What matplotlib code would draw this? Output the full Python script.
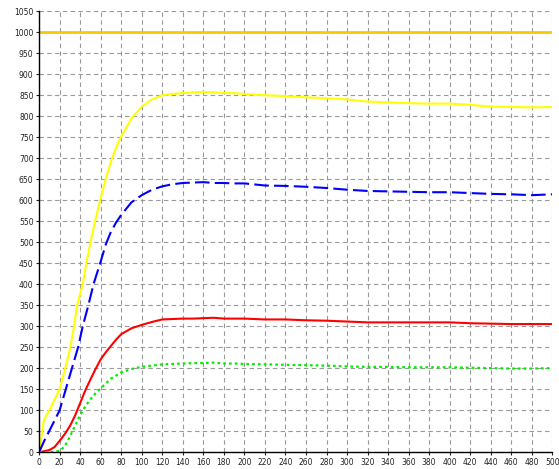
import numpy as np
import matplotlib.pyplot as plt

# tail of every series shares the same x positions
TAIL_X = [110, 120, 130, 140, 150, 160, 170, 180, 190, 200, 220, 240, 260, 280,
          300, 320, 340, 360, 380, 400, 420, 440, 460, 480, 500]

yellow_x = [0, 4.5, 10, 20, 25.5, 30.5, 34, 37, 42.5, 46, 50, 55, 60, 65, 70, 75,
            80, 90, 100] + TAIL_X
yellow = [0, 75, 100, 150, 200, 250, 300, 350, 400, 450, 500, 555, 605, 652, 692,
          725, 752, 795, 823,
          840, 850, 853, 855, 857, 858, 857, 855, 855, 853, 850, 848, 845, 843,
          840, 835, 833, 831, 830, 830, 827, 823, 822, 821, 822]

blue_x = [0, 5, 10, 15, 20, 26, 32, 38, 42.5, 48, 53, 59.5, 65, 70, 75, 80, 90,
          100] + TAIL_X
blue = [0, 27, 51, 75, 100, 150, 200, 250, 300, 350, 400, 450, 495, 525, 547, 565,
        595, 612,
        625, 633, 638, 641, 642, 643, 641, 641, 640, 640, 635, 634, 632, 629, 625,
        622, 621, 620, 619, 619, 617, 615, 614, 612, 614]

red_x = [0, 5, 10, 15, 20, 25, 30, 35, 40, 45, 50, 55, 60, 65, 70, 75, 80, 90,
         100] + TAIL_X
red = [0, 2, 5, 12, 27, 43, 62, 87, 117, 147, 173, 198, 221, 238, 253, 268, 281,
       295, 303,
       310, 316, 317, 318, 318, 319, 320, 318, 318, 318, 316, 316, 314, 313, 311,
       309, 309, 309, 309, 309, 307, 306, 305, 305, 305]

green_x = [0, 10, 15, 20, 25, 30, 35, 40, 45, 50, 55, 60, 70, 80, 93, 100] + TAIL_X
green = [0, 0, 1, 3, 14, 37, 63, 88, 109, 126, 140, 152, 175, 190, 200, 203,
         206, 209, 210, 211, 212, 212, 213, 211, 211, 210, 209, 208, 207, 206,
         204, 203, 203, 202, 202, 202, 201, 200, 199, 199, 200]

limit_x = [0, 500]
limit_y = [1000, 1000]


def main():
    fig = plt.figure(figsize=(5.59, 4.69), dpi=100)
    ax = fig.add_axes([0.070, 0.036, 0.918, 0.940])

    ax.plot(limit_x, limit_y, color="#f8c800", lw=2.0)
    ax.plot(yellow_x, yellow, color="#ffff00", lw=1.5)
    ax.plot(blue_x, blue, color="#0000ff", lw=1.5, dashes=(7, 2.5))
    ax.plot(red_x, red, color="#ff0000", lw=1.5)
    ax.plot(green_x, green, color="#00ee00", lw=1.6, dashes=(1.2, 1.4))

    ax.set_xlim(0, 500)
    ax.set_ylim(0, 1050)
    ax.set_xticks(np.arange(0, 501, 20))
    ax.set_yticks(np.arange(0, 1051, 50))
    ax.grid(True, color="#999999", lw=0.8, dashes=(4, 3))
    for s in ("top", "right"):
        ax.spines[s].set_visible(False)
    for s in ("left", "bottom"):
        ax.spines[s].set_color("black")
        ax.spines[s].set_linewidth(1.0)
    ax.tick_params(length=2, width=0.8, colors="#222222", labelsize=5.5, pad=2)
    fig.savefig("out.png", dpi=100)


if __name__ == "__main__":
    main()
